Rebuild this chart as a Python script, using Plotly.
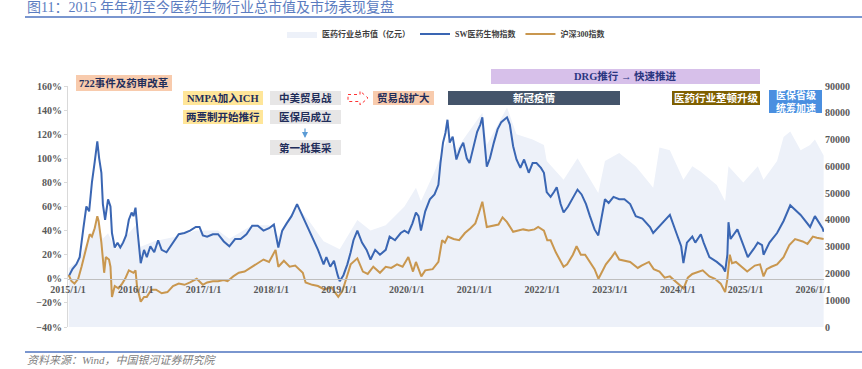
import plotly.graph_objects as go

# ---------------- data ----------------
sw_dates = ["2015-01-05","2015-01-25","2015-02-15","2015-03-05","2015-03-25","2015-04-10","2015-04-25","2015-05-10","2015-05-25","2015-06-08","2015-06-18","2015-06-30","2015-07-08","2015-07-20","2015-08-05","2015-08-18","2015-08-26","2015-09-10","2015-09-25","2015-10-10","2015-10-25","2015-11-10","2015-11-25","2015-12-10","2015-12-20","2015-12-31",
"2016-01-12","2016-01-28","2016-02-15","2016-03-01","2016-03-20","2016-04-10","2016-05-01","2016-05-20","2016-06-15","2016-07-10","2016-08-01","2016-08-20","2016-09-20","2016-10-20","2016-11-20","2016-12-10","2016-12-28",
"2017-01-20","2017-02-20","2017-03-20","2017-04-20","2017-05-20","2017-06-20","2017-07-20","2017-08-20","2017-09-20","2017-10-20","2017-11-20","2017-12-20",
"2018-01-15","2018-02-08","2018-03-01","2018-03-25","2018-04-20","2018-05-20","2018-06-10","2018-07-01","2018-07-20","2018-08-15","2018-09-10","2018-10-10","2018-10-25","2018-11-15","2018-12-05","2018-12-25",
"2019-01-05","2019-01-25","2019-02-15","2019-03-05","2019-03-20","2019-04-10","2019-05-05","2019-05-30","2019-06-20","2019-07-15","2019-08-10","2019-09-10","2019-10-01","2019-10-30","2019-11-30","2019-12-20",
"2020-01-10","2020-02-01","2020-02-20","2020-03-05","2020-03-18","2020-04-10","2020-05-05","2020-05-30","2020-06-20","2020-07-01","2020-07-15","2020-07-28","2020-08-08","2020-08-20","2020-09-05","2020-09-25","2020-10-15","2020-11-01","2020-11-20","2020-12-05","2020-12-25",
"2021-01-15","2021-02-01","2021-02-12","2021-03-08","2021-03-25","2021-04-15","2021-05-05","2021-05-25","2021-06-25","2021-07-10","2021-07-28","2021-08-15","2021-09-05","2021-09-25","2021-10-20","2021-11-10","2021-12-01","2021-12-25",
"2022-01-10","2022-01-25","2022-02-15","2022-03-05","2022-03-20","2022-04-10","2022-04-26","2022-05-20","2022-06-20","2022-07-10","2022-08-01","2022-08-25","2022-09-15","2022-10-10","2022-10-30","2022-11-15","2022-12-05","2022-12-25",
"2023-01-20","2023-02-20","2023-03-20","2023-04-20","2023-05-20","2023-06-25","2023-08-05","2023-08-22","2023-09-25","2023-11-20","2023-12-25",
"2024-01-20","2024-02-01","2024-02-20","2024-03-20","2024-04-05","2024-05-05","2024-05-20","2024-06-20","2024-07-30","2024-08-30","2024-09-13","2024-09-25","2024-10-01","2024-10-12","2024-11-18","2024-12-20",
"2025-01-13","2025-02-15","2025-03-08","2025-03-31","2025-04-08","2025-05-10","2025-06-20","2025-07-25","2025-08-30","2025-10-25","2025-12-15","2026-01-10","2026-02-20","2026-02-26"]
sw_values = [2,8,12,18,42,60,56,80,97,114,100,88,62,49,66,60,38,26,30,26,30,36,49,55,52,59,
38,13,24,18,27,22,32,24,22,28,33,37,38,40,43,43,36,
35,37,37,31,27,33,33,37,44,44,40,42,
45,26,40,46,52,62,55,48,42,32,24,12,18,10,15,3,
-2,3,12,22,32,40,30,24,16,24,20,24,35,32,38,40,
38,46,55,52,40,56,66,70,78,96,113,121,132,113,118,99,108,113,100,96,108,
122,128,134,93,100,113,124,130,134,128,110,99,92,99,88,96,96,92,
88,72,68,72,76,62,55,60,68,74,70,62,52,41,36,50,66,63,
68,66,66,62,52,50,43,38,44,53,38,
27,13,30,35,30,37,30,18,14,10,6,20,47,33,41,28,
18,25,30,28,20,30,38,48,61,53,43,52,42,39]

hs_dates = ["2015-01-05","2015-01-20","2015-02-05","2015-02-25","2015-03-15","2015-03-30","2015-04-15","2015-04-28","2015-05-10","2015-05-25","2015-06-08","2015-06-15","2015-06-30","2015-07-08","2015-07-15","2015-07-24","2015-08-10","2015-08-18","2015-08-26","2015-09-10","2015-09-30","2015-10-20","2015-11-05","2015-11-25","2015-12-20","2015-12-31",
"2016-01-08","2016-01-28","2016-02-15","2016-03-01","2016-03-25","2016-04-20","2016-05-20","2016-06-20","2016-07-20","2016-08-20","2016-09-20","2016-10-20","2016-11-25","2016-12-28",
"2017-01-20","2017-02-20","2017-03-20","2017-04-20","2017-05-10","2017-06-10","2017-07-10","2017-08-10","2017-09-10","2017-10-20","2017-11-20","2017-12-20",
"2018-01-24","2018-02-08","2018-03-10","2018-04-10","2018-05-10","2018-06-20","2018-07-05","2018-08-10","2018-09-10","2018-10-15","2018-11-20","2018-12-28",
"2019-01-20","2019-02-15","2019-03-05","2019-04-10","2019-05-10","2019-06-05","2019-07-05","2019-08-10","2019-09-10","2019-10-10","2019-11-10","2019-12-10",
"2020-01-10","2020-02-04","2020-02-20","2020-03-20","2020-04-10","2020-05-20","2020-06-20","2020-07-10","2020-07-25","2020-08-10","2020-09-10","2020-10-10","2020-11-10","2020-12-10",
"2021-01-05","2021-01-25","2021-02-12","2021-03-08","2021-04-10","2021-05-10","2021-06-01","2021-06-25","2021-07-28","2021-08-20","2021-09-20","2021-10-20","2021-11-20","2021-12-10",
"2022-01-10","2022-01-28","2022-02-15","2022-03-15","2022-04-26","2022-05-15","2022-06-15","2022-07-05","2022-07-28","2022-08-20","2022-09-20","2022-10-10","2022-10-31","2022-11-20","2022-12-10",
"2023-01-10","2023-01-28","2023-02-20","2023-03-20","2023-04-20","2023-05-31","2023-06-20","2023-07-30","2023-08-25","2023-09-25","2023-10-23","2023-11-20","2023-12-25",
"2024-01-20","2024-02-02","2024-02-25","2024-03-20","2024-05-15","2024-06-20","2024-07-20","2024-08-20","2024-09-13","2024-09-25","2024-10-08","2024-10-20","2024-11-10","2024-12-10",
"2025-01-10","2025-02-20","2025-03-20","2025-04-08","2025-04-25","2025-05-20","2025-06-20","2025-07-25","2025-08-25","2025-09-25","2025-11-05","2025-12-01","2025-12-30","2026-01-20","2026-02-26"]
hs_values = [3,-2,-4,0,10,20,30,37,35,42,52,48,30,13,5,18,16,10,-15,-6,-8,-4,0,7,5,7,
-6,-19,-15,-15,-9,-9,-12,-11,-6,-4,-5,-3,0,-5,
-3,-2,-2,-1,-2,2,5,6,9,13,16,14,
24,10,15,10,11,5,-3,-5,-6,-9,-7,-15,
-10,3,12,17,6,4,10,5,10,9,12,10,
18,6,14,2,7,8,14,32,30,35,33,32,38,42,
46,55,64,43,44,45,51,47,39,40,41,40,41,43,
40,32,32,22,10,12,20,27,20,20,13,8,0,6,12,
18,22,16,15,14,9,11,14,8,6,1,2,-3,
-6,-8,1,4,7,2,0,-4,-11,0,20,13,14,10,
6,11,12,2,8,10,12,18,28,33,31,29,35,34,33]

cap_dates = ["2015-01-05","2015-03-01","2015-04-15","2015-06-10","2015-07-08","2015-08-05","2015-09-15","2015-11-25","2015-12-31","2016-01-28","2016-04-10","2016-08-20","2016-11-20","2017-03-20","2017-05-20","2017-09-20","2017-12-20","2018-02-08","2018-05-20","2018-07-20","2018-10-10","2019-01-05","2019-04-10","2019-06-20","2019-09-10","2019-12-20","2020-02-20","2020-03-18","2020-05-30","2020-08-08","2020-09-25","2020-11-01","2021-02-12","2021-03-08","2021-06-25","2021-08-15","2021-11-10","2022-01-10","2022-01-25","2022-04-26","2022-07-10","2022-10-30","2022-12-05","2023-02-20","2023-05-20","2023-08-22","2023-09-25","2023-11-20","2024-02-01","2024-03-20","2024-05-05","2024-07-30","2024-09-13","2024-10-01","2024-12-20","2025-03-08","2025-04-08","2025-06-20","2025-07-25","2025-08-30","2025-10-25","2025-12-15","2026-01-10","2026-02-26"]
cap_values = [22000,25000,32000,40000,33000,35000,29000,35000,38000,30000,32000,34000,36000,36000,33000,38000,38000,34000,45000,40000,32000,29000,40000,36000,38000,45000,52000,47000,58000,70000,66000,70000,80000,68000,82000,72000,70000,68000,62000,55000,63000,50000,62000,65000,60000,52000,67000,66000,55000,60000,58000,53000,47000,60000,54000,60000,55000,62000,71000,73000,66000,68000,70000,64000]

year_ticks = ["2015-01-01","2016-01-01","2017-01-01","2018-01-01","2019-01-01","2020-01-01",
              "2021-01-01","2022-01-01","2023-01-01","2024-01-01","2025-01-01","2026-01-01"]
year_labels = ["2015/1/1","2016/1/1","2017/1/1","2018/1/1","2019/1/1","2020/1/1",
               "2021/1/1","2022/1/1","2023/1/1","2024/1/1","2025/1/1","2026/1/1"]

# ---------------- geometry helpers (pixel -> paper) ----------------
W, H = 862, 369
L, R, T, B = 68, 824, 86, 327
def px(x): return (x - L) / (R - L)
def py(y): return (B - y) / (B - T)

SERIF = "Liberation Serif, Noto Sans CJK SC, serif"

fig = go.Figure()
# area on the base axis (right side) so the index lines (overlay axis) draw on top
fig.add_trace(go.Scatter(x=cap_dates, y=cap_values, name="<b>医药行业总市值（亿元）</b>",
                         mode="lines", line=dict(width=0, color="#edf1f9"),
                         fill="tozeroy", fillcolor="#edf1f9", yaxis="y"))
fig.add_trace(go.Scatter(x=sw_dates, y=sw_values, name="<b>SW医药生物指数</b>",
                         mode="lines", line=dict(width=2, color="#3a66b3"), yaxis="y2"))
fig.add_trace(go.Scatter(x=hs_dates, y=hs_values, name="<b>沪深300指数</b>",
                         mode="lines", line=dict(width=2, color="#c9974f"), yaxis="y2"))

tickfont = dict(family=SERIF, size=10, color="#595959", weight="bold")
fig.update_layout(
    width=W, height=H,
    margin=dict(l=L, r=W - R, t=T, b=H - B),
    paper_bgcolor="white", plot_bgcolor="white",
    showlegend=True,
    legend=dict(orientation="h", x=0.5, xanchor="center", y=py(34), yanchor="middle",
                font=dict(family=SERIF, size=8, color="#404040"),
                itemwidth=30, tracegroupgap=0, bgcolor="rgba(0,0,0,0)"),
    xaxis=dict(type="date", range=["2015-01-01", "2026-02-28"],
               tickvals=year_ticks, ticktext=year_labels, tickfont=tickfont,
               anchor="free", position=0.2, showline=True, linecolor="#bfbfbf",
               linewidth=1, showgrid=False, zeroline=False, ticks="",
               ticklabelstandoff=1),
    yaxis=dict(range=[0, 90000], dtick=10000, side="right", tickformat="d",
               tickfont=tickfont, showgrid=False, zeroline=False, showline=False),
    yaxis2=dict(range=[-40, 160], dtick=20, ticksuffix="%", tickfont=tickfont,
                overlaying="y", side="left",
                showgrid=False, zeroline=False, showline=True, linecolor="#d9d9d9",
                ticks="outside", ticklen=3, tickcolor="#d9d9d9"),
)

# ---------------- title / frame ----------------
fig.add_annotation(text="图11：2015 年年初至今医药生物行业总市值及市场表现复盘",
                   xref="paper", yref="paper", x=px(25), y=py(7), xanchor="left",
                   yanchor="middle", showarrow=False,
                   font=dict(family=SERIF, size=14, color="#5b7cc0"))
fig.add_shape(type="line", xref="paper", yref="paper", x0=px(25), x1=px(862),
              y0=py(17), y1=py(17), line=dict(color="#7a96cf", width=2))
fig.add_shape(type="line", xref="paper", yref="paper", x0=px(25), x1=px(862),
              y0=py(352), y1=py(352), line=dict(color="#7a96cf", width=2))
fig.add_annotation(text="<i>资料来源：Wind，中国银河证券研究院</i>",
                   xref="paper", yref="paper", x=px(25), y=py(360), xanchor="left",
                   yanchor="middle", showarrow=False,
                   font=dict(family=SERIF, size=11, color="#7f7f7f"))

# ---------------- event boxes ----------------
boxes = [
    ("722事件及药审改革", 76, 172, 75, 91, "#f8cbad", "#1f2d5a", 10.5),
    ("NMPA加入ICH", 183, 263, 91, 105, "#ffe699", "#1f2d5a", 10.5),
    ("两票制开始推行", 183, 263, 110, 124, "#ffe699", "#1f2d5a", 10.5),
    ("中美贸易战", 270, 341, 91, 105, "#e7e6e6", "#1f2d5a", 10.5),
    ("医保局成立", 270, 341, 110, 124, "#e7e6e6", "#1f2d5a", 10.5),
    ("第一批集采", 270, 341, 140, 155, "#e7e6e6", "#1f2d5a", 10.5),
    ("贸易战扩大", 373, 434, 91, 105, "#f8cbad", "#1f2d5a", 10.5),
    ("DRG推行 → 快速推进", 491, 760, 69, 84, "#d7c0ea", "#2a3580", 10.5),
    ("新冠疫情", 448, 620, 91, 105, "#44546a", "#ffffff", 10.5),
    ("医药行业整顿升级", 672, 760, 91, 105, "#7f6000", "#ffffff", 10.5),
    ("医保省级<br>统筹加速", 769, 822, 90, 113, "#4a8fe0", "#ffffff", 10),
]
for txt, x0, x1, y0, y1, fc, tc, fs in boxes:
    fig.add_shape(type="rect", xref="paper", yref="paper", x0=px(x0), x1=px(x1),
                  y0=py(y1), y1=py(y0), fillcolor=fc, line=dict(width=0), layer="above")
    fig.add_annotation(text="<b>" + txt + "</b>", xref="paper", yref="paper",
                       x=px((x0 + x1) / 2), y=py((y0 + y1) / 2), showarrow=False,
                       xanchor="center", yanchor="middle",
                       font=dict(family=SERIF, size=fs, color=tc))

# blue arrow 医保局成立 -> 第一批集采
fig.add_annotation(xref="paper", yref="paper", axref="pixel", ayref="pixel",
                   x=px(305), y=py(138), ax=0, ay=-11, text="",
                   showarrow=True, arrowhead=2, arrowsize=1, arrowwidth=1.2,
                   arrowcolor="#5b9bd5")
# dotted hollow red arrow
path = "M {a},{b} L {c},{b} L {c},{d} L {e},{f} L {c},{g} L {c},{h} L {a},{h} Z".format(
    a=px(348), b=py(94.5), c=px(360), d=py(91), e=px(368), f=py(98), g=py(105), h=py(101.5))
fig.add_shape(type="path", xref="paper", yref="paper", path=path,
              line=dict(color="#ff3333", width=1, dash="dot"), fillcolor="rgba(0,0,0,0)")

fig.write_html("out.html", config={"displayModeBar": False},
               post_script="document.body.style.margin='0';")
